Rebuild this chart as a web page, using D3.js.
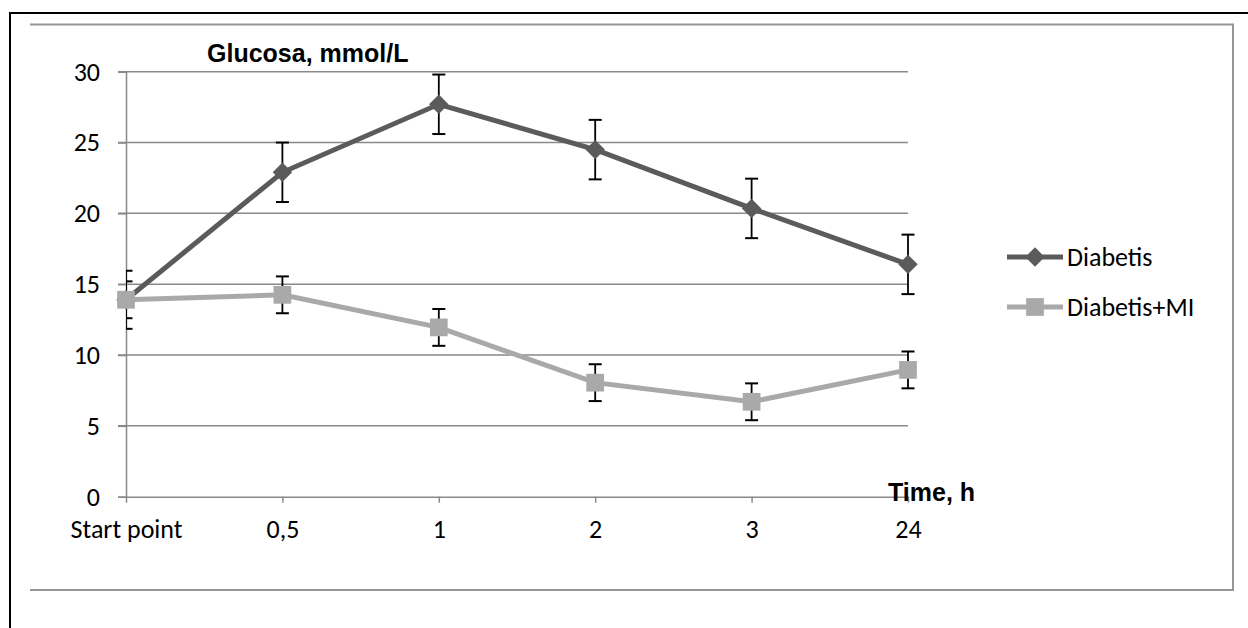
<!DOCTYPE html>
<html>
<head>
<meta charset="utf-8">
<script src="https://cdn.jsdelivr.net/npm/d3@7"></script>
<style>
  body { margin: 0; background: #fff; }
  svg text { font-family: Carlito, Lato, "Open Sans", sans-serif; fill: #000; }
</style>
</head>
<body>
<div id="container"></div>
<script>
// data
var categories = ["Start point", "0,5", "1", "2", "3", "24"];
var diabetis = [13.9, 22.9, 27.7, 24.5, 20.35, 16.4];
var diabetisErr = [2.05, 2.1, 2.1, 2.1, 2.1, 2.1];
var diabetisMI = [13.9, 14.25, 11.95, 8.05, 6.7, 8.95];
var diabetisMIErr = [1.3, 1.3, 1.3, 1.3, 1.3, 1.3];
var yTicks = [0, 5, 10, 15, 20, 25, 30];

var width = 1248, height = 628;

var svg = d3.select("div#container")
  .append("svg")
  .attr("width", width)
  .attr("height", height);

// outer frame + chart area frame
svg.append("rect")
  .attr("x", 10).attr("y", 13)
  .attr("width", 1260).attr("height", 640)
  .attr("fill", "none").attr("stroke", "#000").attr("stroke-width", 2);

svg.append("path")
  .attr("d", "M30,24.5H1233V590H30")
  .attr("fill", "none").attr("stroke", "#969696").attr("stroke-width", 2);

var x = d3.scalePoint().domain(categories).range([126, 908]);
var y = d3.scaleLinear().domain([0, 30]).range([496.7, 71.7]);

// gridlines
svg.append("g")
  .selectAll("line")
  .data(yTicks.filter(function(d) { return d > 0; }))
  .enter().append("line")
  .attr("x1", 118).attr("x2", 908)
  .attr("y1", function(d) { return y(d); })
  .attr("y2", function(d) { return y(d); })
  .attr("stroke", "#898989").attr("stroke-width", 1.5);

// y axis
var yAxis = svg.append("g")
  .attr("transform", "translate(126,0)")
  .call(d3.axisLeft(y).tickValues(yTicks).tickSize(8).tickPadding(18));
yAxis.select(".domain").attr("stroke", "#898989").attr("stroke-width", 1.5);
yAxis.selectAll(".tick line").attr("stroke", "#898989").attr("stroke-width", 1.5);
yAxis.selectAll("text").style("font-size", "26px").attr("font-family", null);

// x axis
var xAxis = svg.append("g")
  .attr("transform", "translate(0," + y(0) + ")")
  .call(d3.axisBottom(x).tickSize(6).tickPadding(17).tickSizeOuter(0));
xAxis.select(".domain").attr("stroke", "#898989").attr("stroke-width", 1.5);
xAxis.selectAll(".tick line").attr("stroke", "#898989").attr("stroke-width", 1.5);
xAxis.selectAll("text").style("font-size", "26px").attr("font-family", null);

// titles
svg.append("text")
  .attr("x", 207).attr("y", 62)
  .style("font-family", "'Liberation Sans', Arial, sans-serif")
  .style("font-weight", "bold").style("font-size", "25px")
  .text("Glucosa, mmol/L");

svg.append("text")
  .attr("x", 888).attr("y", 501)
  .style("font-family", "'Liberation Sans', Arial, sans-serif")
  .style("font-weight", "bold").style("font-size", "25px")
  .text("Time, h");

var series = [
  {name: "Diabetis", values: diabetis, err: diabetisErr, color: "#5b5b5b", marker: "diamond"},
  {name: "Diabetis+MI", values: diabetisMI, err: diabetisMIErr, color: "#a9a9a9", marker: "square"}
];

svg.append("clipPath").attr("id", "plotClip")
  .append("rect").attr("x", 126).attr("y", 0).attr("width", 1000).attr("height", 628);

var line = d3.line()
  .x(function(d, i) { return x(categories[i]); })
  .y(function(d) { return y(d); });

var diamond = d3.symbol().type(d3.symbolDiamond2).size(240);
var square = d3.symbol().type(d3.symbolSquare2).size(400);

// error bars (behind lines)
series.forEach(function(s) {
  var g = svg.append("g").attr("clip-path", "url(#plotClip)");
  var bars = g.selectAll("g").data(s.values).enter().append("g");
  bars.append("line")
    .attr("x1", function(d, i) { return x(categories[i]); })
    .attr("x2", function(d, i) { return x(categories[i]); })
    .attr("y1", function(d, i) { return y(d + s.err[i]); })
    .attr("y2", function(d, i) { return y(d - s.err[i]); })
    .attr("stroke", "#000").attr("stroke-width", 1.8);
  [1, -1].forEach(function(sign) {
    bars.append("line")
      .attr("x1", function(d, i) { return x(categories[i]) - 6.5; })
      .attr("x2", function(d, i) { return x(categories[i]) + 6.5; })
      .attr("y1", function(d, i) { return y(d + sign * s.err[i]); })
      .attr("y2", function(d, i) { return y(d + sign * s.err[i]); })
      .attr("stroke", "#000").attr("stroke-width", 2);
  });
});

series.forEach(function(s) {
  svg.append("path")
    .datum(s.values)
    .attr("d", line)
    .attr("fill", "none")
    .attr("stroke", s.color)
    .attr("stroke-width", 5);
  svg.append("g").selectAll("path")
    .data(s.values)
    .enter().append("path")
    .attr("transform", function(d, i) { return "translate(" + x(categories[i]) + "," + y(d) + ")"; })
    .attr("d", s.marker === "diamond" ? diamond : square)
    .attr("fill", s.color);
});

// legend
var legend = svg.append("g").selectAll("g")
  .data(series)
  .enter().append("g")
  .attr("transform", function(d, i) { return "translate(1007," + (257 + i * 50) + ")"; });

legend.append("line")
  .attr("x1", 0).attr("x2", 56)
  .attr("stroke", function(d) { return d.color; })
  .attr("stroke-width", 5);
legend.append("path")
  .attr("transform", "translate(28,0)")
  .attr("d", function(d) { return d.marker === "diamond" ? diamond() : square(); })
  .attr("fill", function(d) { return d.color; });
legend.append("text")
  .attr("x", 60).attr("dy", "0.35em")
  .style("font-size", "26px")
  .text(function(d) { return d.name; });
</script>
</body>
</html>
